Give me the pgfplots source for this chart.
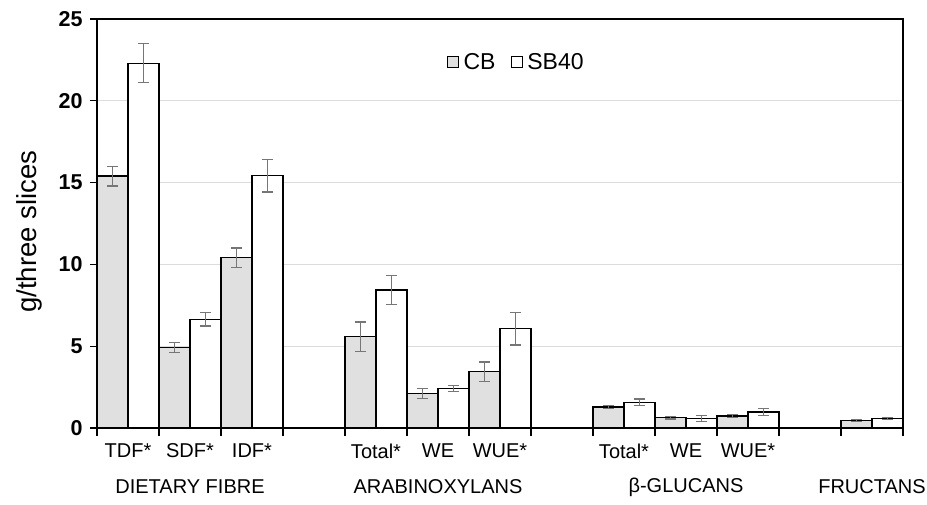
\documentclass[border=0pt]{standalone}
\usepackage{pgfplots}
\pgfplotsset{compat=1.18}
\usepackage{pgfplotstable}
\usepackage{fontspec}
\setmainfont{Liberation Sans}

\definecolor{cbfill}{RGB}{224,224,224}
\definecolor{errgray}{RGB}{118,118,118}
\definecolor{gridgray}{RGB}{220,220,220}

% x = slot on the category axis (3, 7, 11 are empty gaps)
\pgfplotstableread{
x  cb    cbe   sb    sbe
0  15.4  0.6   22.3  1.2
1  4.93  0.3   6.64  0.4
2  10.4  0.6   15.42 1.0
4  5.58  0.9   8.44  0.9
5  2.12  0.3   2.43  0.18
6  3.44  0.6   6.07  1.0
8  1.28  0.1   1.57  0.2
9  0.63  0.08  0.59  0.18
10 0.73  0.08  0.98  0.2
12 0.47  0.06  0.57  0.06
}\data

\begin{document}
\begin{tikzpicture}
\path[use as bounding box] (-97pt,-77pt) rectangle (830pt,428pt);
\begin{axis}[
    scale only axis,
    width=806pt, height=409pt,
    xmin=-0.5, xmax=12.5,
    ymin=0, ymax=25,
    ybar, bar width=0.5,
    clip=false,
    axis line style={black, line width=1.2pt},
    tick align=outside, tick pos=left,
    major tick length=7pt,
    minor tick length=8pt,
    ytick={0,5,...,25},
    ymajorgrids,
    y grid style={gridgray, line width=1pt},
    ytick style={black, line width=1.2pt},
    yticklabel style={font=\fontsize{21.5}{24}\selectfont\bfseries, xshift=-4pt},
    /pgf/number format/assume math mode=true,
    xtick={0,1,2,4,5,6,8,9,10},
    xticklabels={TDF*,SDF*,IDF*,Total*,WE,WUE*,Total*,WE,WUE*},
    major x tick style={draw=none},
    minor xtick={-0.5,0.5,...,12.5},
    minor x tick style={black, line width=1.2pt},
    xticklabel style={font=\fontsize{20}{24}\selectfont, yshift=-5pt},
    every axis y label/.style={at={(rel axis cs:0,0.48)}, xshift=-68pt,
        rotate=90, anchor=center, font=\fontsize{27.5}{32}\selectfont},
    ylabel={g/three slices},
    legend columns=2,
    legend style={at={(rel axis cs:0.43,0.895)}, anchor=west, draw=none,
        fill=none, font=\fontsize{23}{27}\selectfont,
        /tikz/every odd column/.append style={column sep=3pt},
        /tikz/every even column/.append style={column sep=13pt}},
    legend image code/.code={\draw[#1, line width=0.8pt] (0pt,-5.5pt) rectangle (11pt,5.5pt);},
    error bars/y dir=both, error bars/y explicit,
    error bars/error bar style={errgray, line width=1.3pt},
    error bars/error mark options={rotate=90, errgray, mark size=5.5pt, line width=1.3pt},
]
\addplot[fill=cbfill, draw=black, line width=1.2pt, bar shift=-0.25]
    table[x=x, y=cb, y error=cbe]{\data};
\addplot[fill=white, draw=black, line width=1.2pt, bar shift=0.25]
    table[x=x, y=sb, y error=sbe]{\data};
\legend{CB, SB40}

\node[font=\fontsize{20}{24}\selectfont] at (axis cs:1,0) [yshift=-59pt] {DIETARY FIBRE};
\node[font=\fontsize{20}{24}\selectfont] at (axis cs:5,0) [yshift=-59pt] {ARABINOXYLANS};
\node[font=\fontsize{20}{24}\selectfont] at (axis cs:9,0) [yshift=-59pt] {β-GLUCANS};
\node[font=\fontsize{20}{24}\selectfont] at (axis cs:12,0) [yshift=-59pt] {FRUCTANS};
\end{axis}
\end{tikzpicture}
\end{document}
